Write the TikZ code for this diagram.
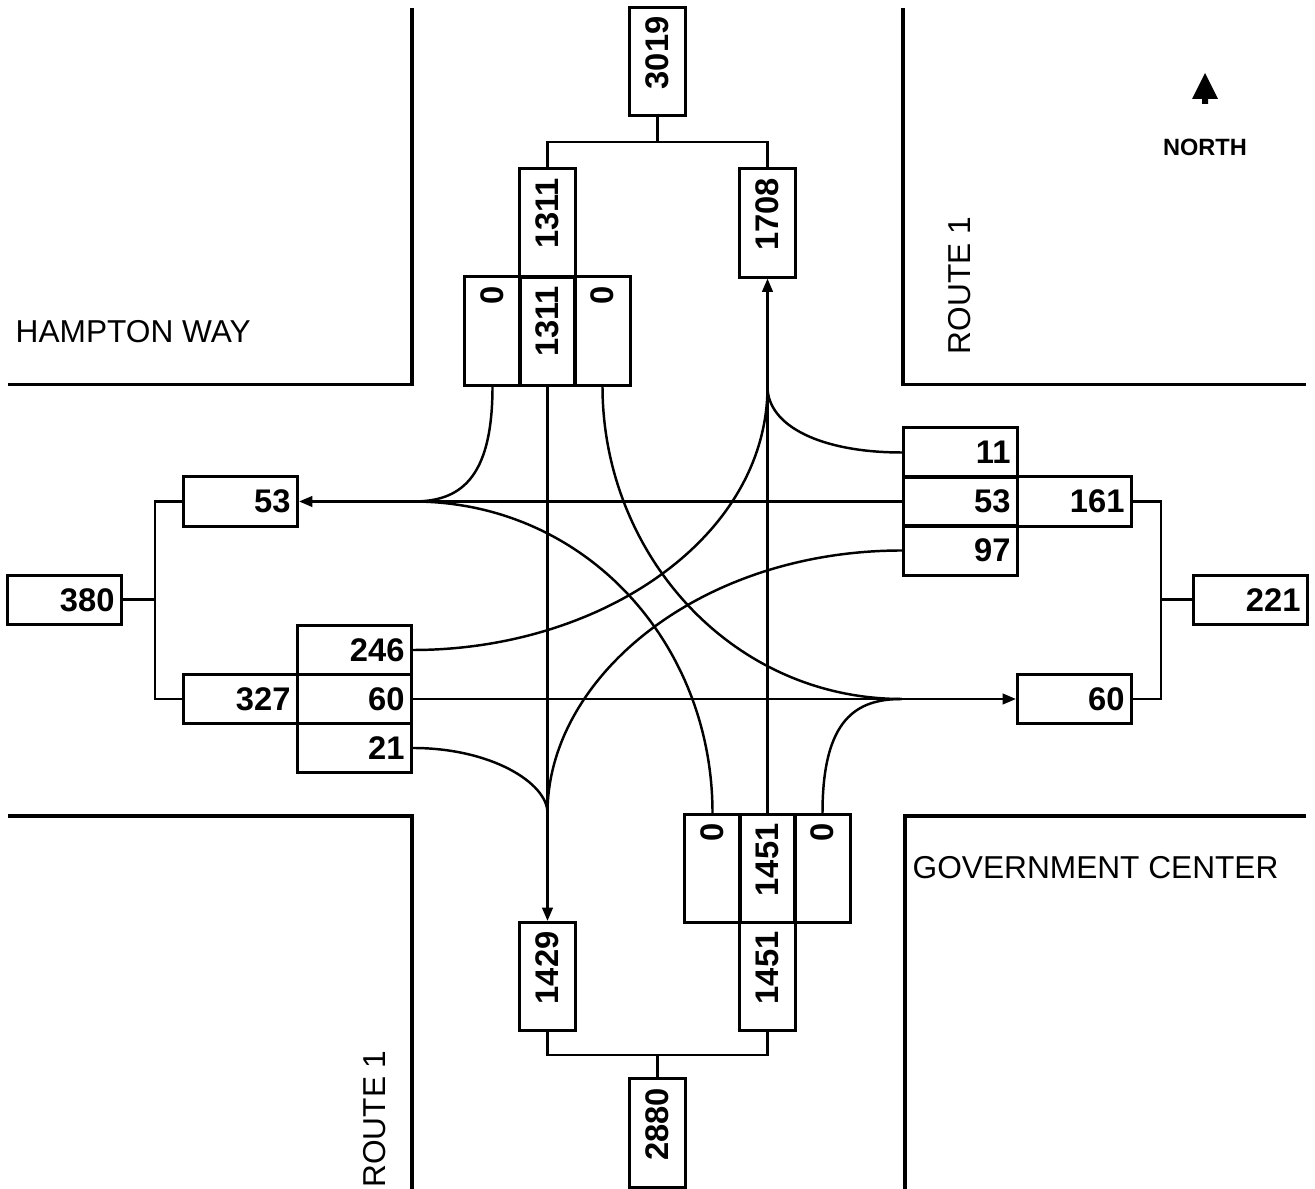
\documentclass[tikz,border=0pt]{standalone}
\usepackage{fontspec}
\setmainfont{Liberation Sans}
\usepackage{graphicx}
\usetikzlibrary{arrows.meta}

% rotated volume, read bottom to top, pushed to the top of its cell
\newcommand{\vnum}[1]{\rotatebox{90}{\makebox[0.9cm][r]{#1}}}

\begin{document}
\begin{tikzpicture}[
    x=0.01cm, y=-0.01cm,
    >={Triangle[length=3.8pt,width=3pt]},
    road/.style={line width=0.9pt},
    hbox/.style={draw, line width=0.85pt, minimum width=1.14cm, minimum height=0.49cm,
      inner sep=0pt, text width=1.0cm, align=right,
      font=\fontsize{9.3pt}{11pt}\selectfont\bfseries},
    vbox/.style={draw, line width=0.85pt, minimum width=0.55cm, minimum height=1.08cm,
      inner sep=0pt, font=\fontsize{9.3pt}{11pt}\selectfont\bfseries},
    flow/.style={line width=0.7pt},
    link/.style={line width=0.65pt},
    stem/.style={line width=0.85pt},
    street/.style={inner sep=0pt, font=\fontsize{9pt}{11pt}\selectfont},
  ]
  \useasboundingbox (0,0) rectangle (1315,1189);

  % ================= road edges
  \draw[road] (412,8) -- (412,384.5) -- (8,384.5);
  \draw[road] (903,8) -- (903,384.5) -- (1306,384.5);
  \draw[road] (8,816) -- (412,816) -- (412,1195);
  \draw[road] (1306,816) -- (905,816) -- (905,1195);

  % street names
  \node[street, anchor=west] (hampton) at (15,331.5) {HAMPTON WAY};
  \node[street, anchor=west] (govt) at (912,868) {GOVERNMENT CENTER};
  \node[street, rotate=90] (routeN) at (959.5,285.5) {ROUTE 1};
  \node[street, rotate=90] (routeS) at (375,1119) {ROUTE 1};

  % north sign
  \fill (1205,73) -- (1218,99) -- (1208,99) -- (1208,104) -- (1202,104)
    -- (1202,99) -- (1192,99) -- cycle;
  \node[inner sep=0pt, font=\fontsize{6.7pt}{8pt}\selectfont\bfseries] (north) at (1205,147.5) {NORTH};

  % ================= north leg
  \node[vbox] (n3019) at (657.5,61.5) {\vnum{3019}};
  \node[vbox] (n1311u) at (547.5,223) {\vnum{1311}};
  \node[vbox] (n1708) at (767.5,223) {\vnum{1708}};
  \node[vbox] (tl) at (492.5,331) {\vnum{0}};
  \node[vbox] (tc) at (547.5,331) {\vnum{1311}};
  \node[vbox] (tr) at (602.5,331) {\vnum{0}};
  \coordinate (jN) at (657.5,142);
  \draw[link] (n1311u.north) |- (jN) -| (n1708.north);
  \draw[stem] (jN) -- (n3019.south);

  % ================= south leg
  \node[vbox] (bl) at (712.5,868.5) {\vnum{0}};
  \node[vbox] (bc) at (767.5,868.5) {\vnum{1451}};
  \node[vbox] (br) at (822.5,868.5) {\vnum{0}};
  \node[vbox] (n1451d) at (767.5,976.5) {\vnum{1451}};
  \node[vbox] (n1429) at (547.5,976.5) {\vnum{1429}};
  \node[vbox] (n2880) at (657.5,1133) {\vnum{2880}};
  \coordinate (jS) at (657.5,1055);
  \draw[link] (n1429.south) |- (jS) -| (n1451d.south);
  \draw[stem] (jS) -- (n2880.north);

  % ================= west leg
  \node[hbox] (n53w) at (240.5,501.5) {53};
  \node[hbox] (n380) at (64.5,600) {380};
  \node[hbox] (n327) at (240.5,699) {327};
  \node[hbox] (w1) at (354.5,650) {246};
  \node[hbox] (w2) at (354.5,699) {60};
  \node[hbox] (w3) at (354.5,748) {21};
  \coordinate (jW) at (155,600);
  \draw[link] (n53w.west) -| (jW) |- (n327.west);
  \draw[stem] (jW) -- (n380.east);

  % ================= east leg
  \node[hbox] (e1) at (960.5,452.5) {11};
  \node[hbox] (e2) at (960.5,501.5) {53};
  \node[hbox] (e3) at (960.5,550.5) {97};
  \node[hbox] (n161) at (1074.5,501.5) {161};
  \node[hbox] (n60e) at (1074.5,699) {60};
  \node[hbox] (n221) at (1250.5,600) {221};
  \coordinate (jE) at (1161,600);
  \draw[link] (n161.east) -| (jE) |- (n60e.east);
  \draw[stem] (jE) -- (n221.west);

  % ================= movements
  \coordinate (mW) at (w1.east |- e2.west);
  \coordinate (mE) at (e2.west |- w2.east);
  \coordinate (mN) at (bc.north |- tc.south);
  \coordinate (mS) at (tc.south |- bc.north);
  % through
  \draw[flow, ->] (e2.west) -- (n53w.east);
  \draw[flow, ->] (w2.east) -- (n60e.west);
  \draw[flow, ->] (tc.south) -- (n1429.north);
  \draw[flow, ->] (bc.north) -- (n1708.south);
  % turns
  \draw[flow] (tl.south) .. controls +(0,95) and +(45,0) .. (mW);
  \draw[flow] (bl.north) .. controls +(0,-170) and +(172,0) .. (mW);
  \draw[flow] (tr.south) .. controls +(0,166) and +(-172,0) .. (mE);
  \draw[flow] (br.north) .. controls +(0,-95) and +(-45,0) .. (mE);
  \draw[flow] (w1.east) .. controls +(188,0) and +(0,151) .. (mN);
  \draw[flow] (e1.west) .. controls +(-80,0) and +(0,40) .. (mN);
  \draw[flow] (e3.west) .. controls +(-203,0) and +(0,-135) .. (mS);
  \draw[flow] (w3.east) .. controls +(78,0) and +(0,-30) .. (mS);
\end{tikzpicture}
\end{document}
